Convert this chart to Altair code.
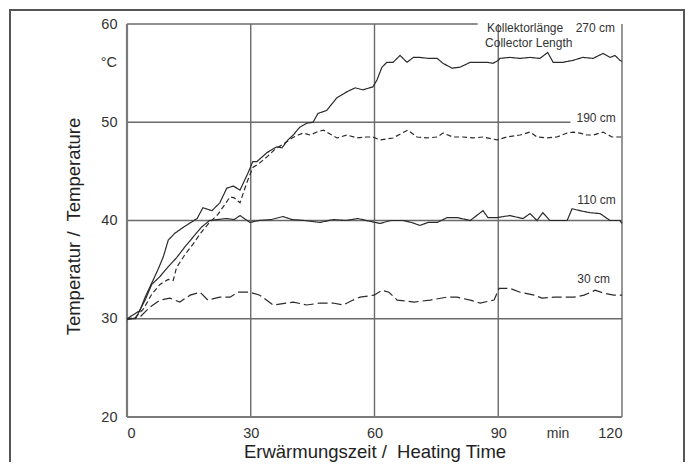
import altair as alt
import pandas as pd

# ---- data -------------------------------------------------------------
s270 = [(0,30),(2,30),(3.2,30.9),(4.5,32.3),(6.3,33.9),(7.5,35),(8.8,36.3),(10,38),(11.6,38.7),
        (13.6,39.3),(15.5,39.8),(17,40.2),(18.4,41.3),(20.6,41),(22.5,41.8),(24.2,43.3),(25.8,43.5),
        (27.4,43.1),(29.3,44.8),(30.5,46),(31.5,46),(33.9,46.9),(35.1,47.2),(36.3,47.5),(37.6,47.4),
        (39,48.2),(40.3,48.7),(41.9,49.5),(43.6,49.9),(45.1,50),(46.3,50.9),(48.4,51.2),(50.9,52.5),
        (53.3,53.1),(55.3,53.5),(57.2,53.3),(59.6,53.6),(60.6,54.3),(61.8,55.6),(63,56.1),(64.5,56.1),
        (66.2,56.8),(67.9,56.1),(69.4,56.6),(71,56.6),(73,56.5),(75.2,56.5),(76.6,56.0),(78.8,55.5),
        (80.7,55.6),(83.2,56.1),(84.8,56.1),(87.3,56.1),(88.7,56.0),(90,56.3),(90.4,56.5),(92.8,56.6),
        (95.3,56.5),(97.7,56.6),(100.1,56.5),(102,57.1),(103.3,56.1),(105.7,56.1),(108.1,56.3),
        (110.5,56.6),(113,56.5),(115.4,57.0),(117.1,56.6),(118.3,56.8),(119.5,56.3),(120,56.2)]
s190 = [(0,30),(2,30.1),(4,31),(6,32.5),(8,33.5),(10,34),(11.2,33.9),(12,35.2),(14,36.5),(16,37.6),
        (18,38.8),(20,39.8),(22,40.6),(24,41.8),(25,42.4),(26,42.3),(27.4,41.8),(29,43.8),(30.5,45.4),
        (32,45.8),(34,46.5),(36,47.3),(38,47.8),(40,48.4),(41.5,48.7),(42.7,48.9),(44.4,48.7),(46,49.0),
        (47.6,49.2),(48.8,48.9),(50.9,48.4),(53.3,48.7),(55.8,48.4),(58.1,48.5),(59.6,48.5),(61.3,48.2),
        (64.5,48.4),(66.7,48.9),(68.1,49.2),(70.3,48.5),(72.7,48.4),(75.2,48.5),(76.6,48.9),(79,48.5),
        (81.5,48.5),(83.9,48.4),(86.3,48.5),(89.7,48.2),(92.1,48.5),(95.3,48.7),(97.7,49),(99.4,48.5),
        (101.8,48.4),(104.2,48.5),(106.7,48.9),(108.1,49.0),(109.8,48.9),(111.5,48.7),(113,48.7),
        (115.4,49.0),(117.6,48.5),(120,48.5)]
s110 = [(0,30),(3,30.8),(4.5,32),(6,33.5),(8,34.3),(10,35.3),(12,36.2),(14,37.3),(16,38.3),(18,39.3),
        (20,40.0),(22,40.1),(24,40.2),(26,40.1),(27.4,40.5),(29.8,39.8),(32,40.0),(35,40.1),(37.8,40.4),
        (40,40.1),(43,40.0),(46.8,39.8),(50,40.1),(53,40.0),(56,40.2),(58,40.0),(61.3,39.7),(64,40.0),
        (66.9,40),(69,39.8),(71,39.5),(73,39.8),(75.2,39.8),(77.6,40.3),(80,40.3),(83.2,40),(86.3,41),
        (87.5,40.3),(89.7,40.3),(92.8,40.5),(96,40.2),(97.7,40.7),(99.4,40),(100.8,40.8),(102.5,40),
        (106.7,40),(107.9,41.2),(109.8,41),(112.2,40.8),(114.7,40.7),(117.1,40),(119.5,40),(120,39.7)]
s30 = [(0,29.9),(3.2,30.2),(5.6,31.2),(8,31.9),(10.4,32.1),(12.8,31.7),(15.3,32.4),(17.7,32.7),
       (19.6,31.9),(22.5,32.2),(25,32.2),(26.9,32.7),(29.8,32.7),(32.2,32.4),(35.4,31.4),(38.8,31.6),
       (40.3,31.7),(43.6,31.4),(46.8,31.6),(49.9,31.6),(52.4,31.4),(54.8,31.9),(56.5,32.2),(59.9,32.4),
       (61.8,32.9),(63.5,32.7),(65.5,31.9),(69.6,31.7),(73.5,31.9),(77.6,32.2),(80,32.2),(83.2,31.9),
       (85.6,31.6),(89,31.9),(90.2,33.1),(92.8,33.1),(95.3,32.7),(98.7,32.4),(100.6,32.1),(103.5,32.2),
       (108.4,32.2),(110.8,32.4),(113.5,32.9),(115.6,32.6),(118,32.4),(120,32.4)]

series_names = ["270 cm", "190 cm", "110 cm", "30 cm"]
series_data = [s270, s190, s110, s30]
dash_styles = [[1, 0], [5, 3], [1, 0], [10, 4]]

x_ticks = [0, 30, 60, 90, 120]
y_ticks = [20, 30, 40, 50, 60]

# horizontal grid lines (value, end time) and vertical grid lines
hgrid_y = [30, 40, 50, 60]
hgrid_end = [120, 120, 107.5, 85]
vgrid_x = [30, 60, 90, 120]

# annotations
right_labels = ["270 cm", "190 cm", "110 cm", "30 cm"]
right_x = [118.3, 118.5, 118.5, 117.1]
right_y = [59.6, 50.45, 42.1, 34.05]
left_labels = ["Kollektorlänge", "Collector Length"]
left_x = [87.3, 86.8]
left_y = [59.6, 58.05]

x_title = "Erwärmungszeit /\u00a0 Heating Time"
y_title = "Temperatur /\u00a0 Temperature"

# ---- build tables ------------------------------------------------------
rows = []
for name, pts in zip(series_names, series_data):
    for t, v in pts:
        rows.append({"t": t, "v": v, "series": name})
df = pd.DataFrame(rows)

hgrid = pd.DataFrame({"y": hgrid_y, "x0": [0] * len(hgrid_y), "x1": hgrid_end})
vgrid = pd.DataFrame({"x": vgrid_x, "y0": [20] * len(vgrid_x), "y1": [60] * len(vgrid_x)})
axes_df = pd.DataFrame({"x0": [0, 0], "x1": [0, 120], "y0": [20, 20], "y1": [60, 20]})
rlab = pd.DataFrame({"t": right_x, "v": right_y, "label": right_labels})
llab = pd.DataFrame({"t": left_x, "v": left_y, "label": left_labels})
unit_y = pd.DataFrame({"t": [-2.4], "v": [56.0], "label": ["°C"]})
unit_x = pd.DataFrame({"t": [104.5], "v": [18.27], "label": ["min"]})

FONT = "Liberation Sans"
xs = alt.Scale(domain=[0, 120], nice=False, zero=False)
ys = alt.Scale(domain=[20, 60], nice=False, zero=False)

frame = alt.Chart(pd.DataFrame({"a": [0]})).mark_rect(
    fill=None, stroke="#555555", strokeWidth=2
).encode(x=alt.value(-117), x2=alt.value(557), y=alt.value(-14), y2=alt.value(470))

hg = alt.Chart(hgrid).mark_rule(color="#6a6a6a", strokeWidth=1.4).encode(
    x=alt.X("x0:Q", scale=xs), x2="x1:Q", y=alt.Y("y:Q", scale=ys))
vg = alt.Chart(vgrid).mark_rule(color="#6a6a6a", strokeWidth=1.4).encode(
    x=alt.X("x:Q", scale=xs), y=alt.Y("y0:Q", scale=ys), y2="y1:Q")
ax = alt.Chart(axes_df).mark_rule(color="#7a7a7a", strokeWidth=2.2).encode(
    x=alt.X("x0:Q", scale=xs), x2="x1:Q", y=alt.Y("y0:Q", scale=ys), y2="y1:Q")

lines = alt.Chart(df).mark_line(color="#2a2a2a", strokeWidth=1.2).encode(
    x=alt.X("t:Q", scale=xs,
            axis=alt.Axis(values=x_ticks, title=x_title,
                          titleY=34, titleBaseline="middle", labelPadding=9)),
    y=alt.Y("v:Q", scale=ys,
            axis=alt.Axis(values=y_ticks, title=y_title,
                          titleX=-54, titleY=202, titleBaseline="middle", labelPadding=10)),
    strokeDash=alt.StrokeDash("series:N", scale=alt.Scale(domain=series_names, range=dash_styles),
                              legend=None),
    detail="series:N",
)

rtext = alt.Chart(rlab).mark_text(align="right", baseline="middle", font=FONT, fontSize=12,
                                  color="#333333").encode(
    x=alt.X("t:Q", scale=xs), y=alt.Y("v:Q", scale=ys), text="label:N")
ltext = alt.Chart(llab).mark_text(align="left", baseline="middle", font=FONT, fontSize=12,
                                  color="#333333").encode(
    x=alt.X("t:Q", scale=xs), y=alt.Y("v:Q", scale=ys), text="label:N")
uy = alt.Chart(unit_y).mark_text(align="right", baseline="middle", font=FONT, fontSize=14.5,
                                 color="#333333").encode(
    x=alt.X("t:Q", scale=xs), y=alt.Y("v:Q", scale=ys), text="label:N")
ux = alt.Chart(unit_x).mark_text(align="center", baseline="middle", font=FONT, fontSize=14,
                                 color="#333333").encode(
    x=alt.X("t:Q", scale=xs), y=alt.Y("v:Q", scale=ys), text="label:N")

chart = alt.layer(frame, hg, vg, ax, lines, rtext, ltext, uy, ux).properties(
    width=495, height=393,
    autosize=alt.AutoSizeParams(type="none"),
    padding={"left": 119, "top": 16, "right": 64, "bottom": 45},
    background="white",
).configure_view(stroke=None).configure_axis(
    domain=False, ticks=False, grid=False,
    labelFont=FONT, labelFontSize=14.5, labelColor="#333333",
    titleFont=FONT, titleFontSize=18.5, titleFontWeight="normal", titleColor="#222222",
)

chart.save("out.html", embed_options={"renderer": "svg", "actions": False})
